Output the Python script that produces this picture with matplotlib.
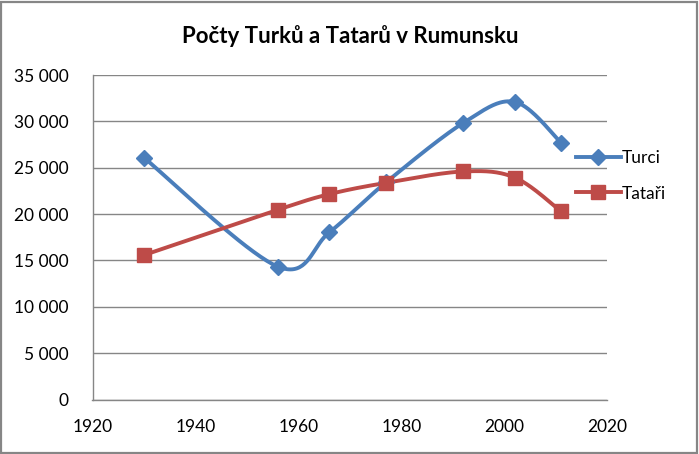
import numpy as np
import matplotlib
matplotlib.use("Agg")
import matplotlib.pyplot as plt
from matplotlib.patches import Rectangle
from matplotlib.ticker import FuncFormatter

roky = [1930, 1956, 1966, 1977, 1992, 2002, 2011]
turci = [26080, 14329, 18040, 23422, 29832, 32098, 27698]
tatari = [15580, 20469, 22151, 23369, 24596, 23935, 20282]

modra = "#4A7EBB"
cervena = "#BE4B48"
seda = "#868686"

plt.rcParams['font.family'] = ['Lato', 'DejaVu Sans']


def vyhlazeni(x, y, n=40):
    # vyhlazena cara jako v Excelu (bezierovy useky, napeti 1/6)
    x = np.asarray(x, float)
    y = np.asarray(y, float)
    # prevod do pixelu osy, aby tvar odpovidal obrazovce
    sx, sy = 515 / 100.0, 324.5 / 35000.0
    px, py = x * sx, y * sy
    body = np.column_stack([px, py])
    vx, vy = [], []
    t = np.linspace(0, 1, n)
    for i in range(len(body) - 1):
        p0 = body[i - 1] if i > 0 else body[i]
        p1 = body[i]
        p2 = body[i + 1]
        p3 = body[i + 2] if i + 2 < len(body) else body[i + 1]
        c1 = p1 + (p2 - p0) / 6.0
        c2 = p2 - (p3 - p1) / 6.0
        b = (np.outer((1 - t) ** 3, p1) + np.outer(3 * (1 - t) ** 2 * t, c1)
             + np.outer(3 * (1 - t) * t ** 2, c2) + np.outer(t ** 3, p2))
        vx.extend(b[:, 0] / sx)
        vy.extend(b[:, 1] / sy)
    return np.array(vx), np.array(vy)


fig = plt.figure(figsize=(6.99, 4.54), dpi=100)
ax = fig.add_axes([92.5 / 699, 54.5 / 454, 515 / 699, 324.5 / 454])

for hodnoty, barva, znacka, velikost, jmeno in [
        (turci, modra, "D", 8, "Turci"),
        (tatari, cervena, "s", 10, "Tataři")]:
    hx, hy = vyhlazeni(roky, hodnoty)
    ax.plot(hx, hy, color=barva, lw=2.8, solid_capstyle="round", zorder=3)
    ax.plot(roky, hodnoty, ls="none", marker=znacka, ms=velikost,
            color=barva, zorder=4)
    ax.plot([], [], color=barva, lw=2.8, marker=znacka, ms=velikost, label=jmeno)

ax.set_xlim(1920, 2020)
ax.set_ylim(0, 35000)
ax.set_xticks(range(1920, 2021, 20))
ax.set_yticks(range(0, 35001, 5000))
ax.yaxis.set_major_formatter(FuncFormatter(lambda v, p: f"{int(v):,}".replace(",", " ")))
ax.tick_params(length=0, labelsize=12.5, colors="black")
ax.tick_params(axis="y", pad=17)
ax.tick_params(axis="x", pad=14)
ax.grid(axis="y", color=seda, lw=1)
ax.set_axisbelow(True)
for s in ["top", "right"]:
    ax.spines[s].set_visible(False)
for s in ["left", "bottom"]:
    ax.spines[s].set_color(seda)
    ax.spines[s].set_linewidth(1)

fig.text(350 / 699, 1 - 36 / 454, "Počty Turků a Tatarů v Rumunsku",
         ha="center", va="center", fontsize=16, fontweight="bold")

fig.legend(loc="center left", bbox_to_anchor=(567 / 699, 1 - 176 / 454),
           frameon=False, fontsize=12.5, handlelength=2.6, labelspacing=1.1,
           handletextpad=0.05, borderpad=0)

fig.patches.append(Rectangle((1 / 699, 1 / 454), 696 / 699, 451 / 454,
                             transform=fig.transFigure, fill=False,
                             edgecolor=seda, lw=1.6))

fig.savefig("out.png", dpi=100)
